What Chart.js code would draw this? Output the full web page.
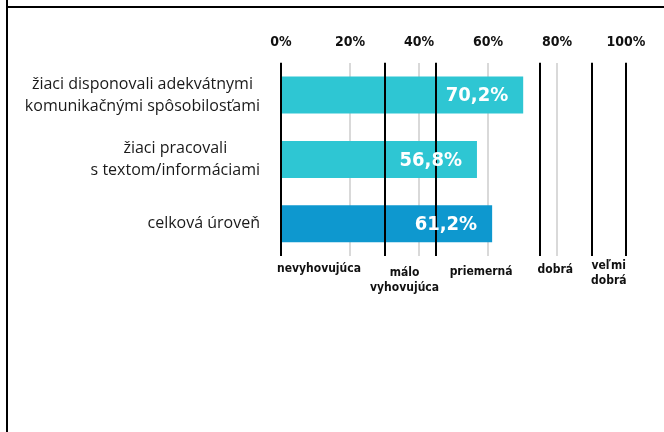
<!DOCTYPE html>
<html>
<head>
<meta charset="utf-8">
<script src="https://cdn.jsdelivr.net/npm/chart.js@4.4.1/dist/chart.umd.min.js"></script>
<style>
  html, body { margin: 0; padding: 0; background: #fff; }
  #wrap { width: 664px; height: 432px; position: relative; }
</style>
</head>
<body>
<div id="wrap"><canvas id="levelChart"></canvas></div>
<script>
// ---- data ----
const categories = [
    ['žiaci disponovali adekvátnymi', 'komunikačnými spôsobilosťami'],
    ['žiaci pracovali', 's textom/informáciami'],
    ['celková úroveň']
];
const values = [70.2, 56.8, 61.2];
const barColors = ['#2ec6d3', '#2ec6d3', '#0e98cf'];
const thresholds = [0, 30, 45, 75, 90, 100];
const bandLabels = [['nevyhovujúca'], ['málo', 'vyhovujúca'], ['priemerná'], ['dobrá'], ['veľmi', 'dobrá']];
const bandCenters = [11, 35.8, 58, 79.5, 95];
const bandOffsets = [0, 4, 3, 1, -3];

const condensed = '"DejaVu Sans Condensed", "DejaVu Sans", sans-serif';
const fmt = v => v.toFixed(1).replace('.', ',') + '%';

// page frame, black threshold lines, value labels and texts
const overlay = {
    id: 'overlay',
    beforeDraw(chart) {
        const c = chart.ctx;
        c.save();
        c.fillStyle = '#000';
        c.fillRect(6, 0, 2, chart.height);
        c.fillRect(6, 6, chart.width - 6, 2);
        c.restore();
    },
    afterDatasetsDraw(chart) {
        const c = chart.ctx, x = chart.scales.x, y = chart.scales.y;
        const area = chart.chartArea;
        c.save();
        c.strokeStyle = '#000';
        c.lineWidth = 2;
        thresholds.forEach(t => {
            const px = Math.round(x.getPixelForValue(t));
            c.beginPath();
            c.moveTo(px, area.top);
            c.lineTo(px, area.bottom);
            c.stroke();
        });

        // values inside bars
        c.fillStyle = '#fff';
        c.font = 'bold 20px ' + condensed;
        c.textAlign = 'right';
        c.textBaseline = 'middle';
        values.forEach((v, i) => {
            c.fillText(fmt(v), x.getPixelForValue(v) - 15, y.getPixelForValue(i) + 1);
        });

        // rating bands under the plot
        c.fillStyle = '#111';
        c.font = 'bold 12px ' + condensed;
        c.textAlign = 'center';
        c.textBaseline = 'top';
        bandLabels.forEach((lines, i) => {
            const cx = x.getPixelForValue(bandCenters[i]);
            lines.forEach((ln, j) => {
                c.fillText(ln, cx, area.bottom + 7 + bandOffsets[i] + j * 15);
            });
        });

        // category labels, each block right aligned, lines centred
        c.fillStyle = '#1a1a1a';
        c.font = '16px "Open Sans", sans-serif';
        c.textBaseline = 'middle';
        const right = area.left - 21;
        categories.forEach((lines, i) => {
            const w = Math.max(...lines.map(l => c.measureText(l).width));
            const cx = right - w / 2;
            const cy = y.getPixelForValue(i) - (lines.length - 1) * 11;
            lines.forEach((ln, j) => c.fillText(ln, cx, cy + j * 22));
        });
        c.restore();
    }
};

new Chart(document.getElementById('levelChart'), {
    type: 'bar',
    data: {
        labels: categories,
        datasets: [{
            data: values,
            backgroundColor: barColors,
            borderWidth: 0,
            barPercentage: 0.575,
            categoryPercentage: 1
        }]
    },
    options: {
        indexAxis: 'y',
        responsive: true,
        maintainAspectRatio: false,
        animation: false,
        layout: { padding: { left: 281, right: 38, top: 22, bottom: 176 } },
        plugins: { legend: { display: false }, tooltip: { enabled: false } },
        scales: {
            x: {
                position: 'top',
                min: 0,
                max: 100,
                border: { display: false },
                grid: {
                    drawTicks: false,
                    lineWidth: 2,
                    color: ctx => (ctx.tick && ctx.tick.value > 0 && ctx.tick.value < 100) ? '#d9d9d9' : 'rgba(0,0,0,0)'
                },
                ticks: {
                    stepSize: 20,
                    padding: 12,
                    color: '#111',
                    font: { family: condensed, size: 14, weight: 'bold' },
                    callback: v => v + '%'
                }
            },
            y: {
                display: false
            }
        }
    },
    plugins: [overlay]
});
</script>
</body>
</html>
